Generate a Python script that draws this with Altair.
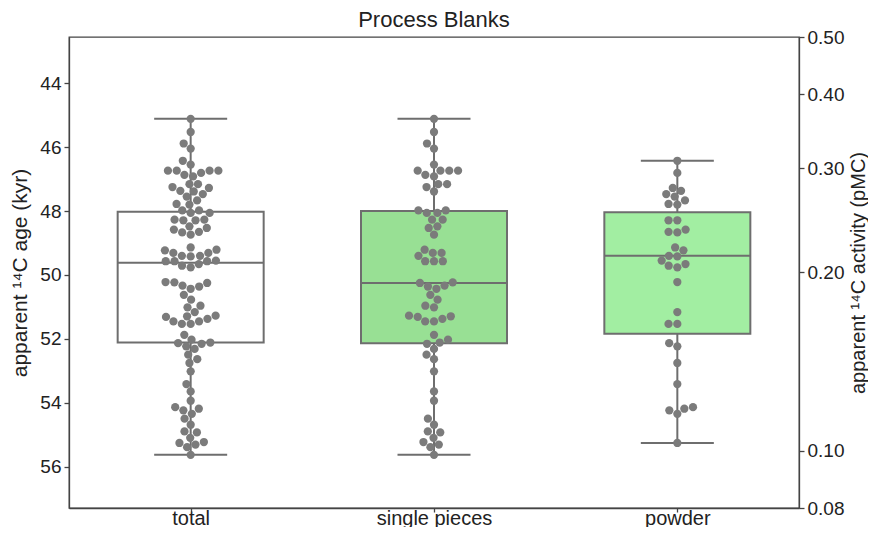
import numpy as np
import pandas as pd
import altair as alt

# ---------------- data ----------------
chart_title = "Process Blanks"
categories = ["total", "single pieces", "powder"]

single_ages = [
    45.12, 45.53, 45.89, 46.05, 46.55, 46.74, 46.74, 46.74, 46.74, 46.87, 46.92,
    47.16, 47.16, 47.25, 47.39,
    47.98, 47.98, 48.06, 48.06, 48.27, 48.27, 48.48, 48.53, 48.74, 49.21, 49.31,
    49.31, 49.40, 49.57, 49.57, 49.57,
    50.23, 50.25, 50.33, 50.36, 50.43, 50.62, 50.77, 50.96, 51.01, 51.27, 51.29,
    51.31, 51.37, 51.45, 51.45,
    51.87, 52.02, 52.11, 52.15, 52.31, 52.49, 52.63, 53.01, 53.64, 53.93, 54.49,
    54.68, 54.89, 54.92, 55.09, 55.22, 55.30, 55.38, 55.62,
]
powder_ages = [
    46.43, 46.81, 47.28, 47.37, 47.47, 47.55, 47.67, 47.78, 47.80,
    48.29, 48.29, 48.58, 48.65, 48.67, 49.14, 49.23, 49.40, 49.42, 49.55,
    49.66, 49.71, 49.76, 50.22,
    51.16, 51.53, 51.53, 52.13, 52.23, 52.75, 53.41, 54.13, 54.18, 54.23,
    54.34, 55.25,
]
total_ages = single_ages + powder_ages
group_ages = [total_ages, single_ages, powder_ages]

box_q1 = [48.02, 48.00, 48.04]
box_median = [49.62, 50.25, 49.40]
box_q3 = [52.11, 52.13, 51.84]
whisker_lo = [45.12, 45.12, 46.43]
whisker_hi = [55.62, 55.62, 55.25]
box_fill = ["#ffffff", "#98e094", "#a2eea2"]

pmc_limits = [0.08, 0.50]
pmc_ticks = [0.08, 0.10, 0.20, 0.30, 0.40, 0.50]
age_ticks = [44, 46, 48, 50, 52, 54, 56]

# ---------------- geometry ----------------
W, H = 730, 471
BAND = W / len(categories)


def age_from_pmc(p):
    return -8.033 * np.log(p / 100.0)


AGE_MIN = float(age_from_pmc(pmc_limits[1]))
AGE_MAX = float(age_from_pmc(pmc_limits[0]))
PX_PER_KYR = H / (AGE_MAX - AGE_MIN)
R = 4.2  # swarm radius in px


def swarm_offsets(ages, r=R):
    ys = (np.asarray(ages) - AGE_MIN) * PX_PER_KYR
    order = np.argsort(-ys, kind="stable")
    placed = []
    out = np.zeros(len(ys))
    for idx in order:
        y = ys[idx]
        nb = [(px, py) for (px, py) in placed if abs(py - y) < 2 * r]
        cands = [0.0]
        left_first = True
        for (px, py) in nb:
            dy = y - py
            dx = np.sqrt(max(4 * r * r - dy * dy, 0.0)) * 1.05
            pair = [px - dx, px + dx] if left_first else [px + dx, px - dx]
            cands.extend(pair)
            left_first = not left_first
        cands = np.array(cands)
        cands = cands[np.argsort(np.abs(cands), kind="stable")]
        chosen = cands[0]
        for c in cands:
            if all((c - px) ** 2 + (y - py) ** 2 >= 4 * r * r - 1e-6 for px, py in nb):
                chosen = c
                break
        placed.append((chosen, y))
        out[idx] = chosen
    return out


rows = []
for i, (cat, ages) in enumerate(zip(categories, group_ages)):
    offs = swarm_offsets(ages)
    for a, o in zip(ages, offs):
        rows.append({"cat": cat, "age": a, "xpos": i + 0.5 + o / BAND})
points_df = pd.DataFrame(rows)

box_df = pd.DataFrame({
    "cat": categories,
    "xl": [i + 0.2 for i in range(3)],
    "xr": [i + 0.8 for i in range(3)],
    "xc": [i + 0.5 for i in range(3)],
    "cl": [i + 0.35 for i in range(3)],
    "cr": [i + 0.65 for i in range(3)],
    "q1": box_q1, "median": box_median, "q3": box_q3,
    "lo": whisker_lo, "hi": whisker_hi, "fill": box_fill,
})

# ---------------- scales / axes ----------------
FONT = "Liberation Sans"
LINE = "#6e6e6e"

x_scale = alt.Scale(domain=[0, 3], nice=False, zero=False)
label_expr = " : ".join(
    [f"datum.value == {i + 0.5} ? '{c}'" for i, c in enumerate(categories[:-1])]
) + f" : '{categories[-1]}'"
x_axis = alt.Axis(values=[0.5, 1.5, 2.5], labelExpr=label_expr, title=None,
                  labelAngle=0, tickSize=4, labelPadding=12,
                  labelBaseline="alphabetic", labelFontSize=20)

y_scale = alt.Scale(domain=[AGE_MIN, AGE_MAX], reverse=True, nice=False, zero=False)
y_axis = alt.Axis(values=age_ticks, title="apparent ¹⁴C age (kyr)", tickSize=5,
                  labelPadding=3, titleX=-49, titleBaseline="middle")


def X(f):
    return alt.X(f"{f}:Q", scale=x_scale, axis=x_axis)


def Y(f):
    return alt.Y(f"{f}:Q", scale=y_scale, axis=y_axis)


base = alt.Chart(box_df)

whisk = base.mark_rule(color=LINE, strokeWidth=2).encode(
    x=X("xc"), y=Y("lo"), y2="hi")
caps_lo = base.mark_rule(color=LINE, strokeWidth=2).encode(
    x=X("cl"), x2="cr", y=Y("lo"))
caps_hi = base.mark_rule(color=LINE, strokeWidth=2).encode(
    x=X("cl"), x2="cr", y=Y("hi"))
boxes = base.mark_rect(stroke=LINE, strokeWidth=2).encode(
    x=X("xl"), x2="xr", y=Y("q1"), y2="q3",
    fill=alt.Fill("fill:N", scale=None))
med = base.mark_rule(color=LINE, strokeWidth=2).encode(
    x=X("xl"), x2="xr", y=Y("median"))
pts = alt.Chart(points_df).mark_circle(size=68, color="#7b7b7b", opacity=1).encode(
    x=X("xpos"), y=Y("age"))

# chart title, drawn as a text centred above the plot frame
title_mark = alt.Chart(pd.DataFrame({"t": [chart_title]})).mark_text(
    font=FONT, fontSize=22, color="#222222", align="center",
    baseline="alphabetic").encode(
    x=alt.value(W / 2), y=alt.value(-10), text="t:N")

left = alt.layer(whisk, caps_lo, caps_hi, boxes, med, pts, title_mark)

right = alt.Chart(pd.DataFrame({"pmc": pmc_limits})).mark_point(opacity=0).encode(
    y=alt.Y("pmc:Q",
            scale=alt.Scale(type="log", domain=pmc_limits, nice=False, zero=False),
            axis=alt.Axis(orient="right", values=pmc_ticks, format=".2f",
                          title="apparent ¹⁴C activity (pMC)", tickSize=5,
                          labelPadding=3, titleAngle=270, titleX=59,
                          titleFontSize=20, titleBaseline="middle")))

chart = alt.layer(left, right).resolve_scale(y="independent").properties(
    width=W, height=H,
    padding={"left": 61, "top": 29, "right": 69, "bottom": 19},
    autosize=alt.AutoSizeParams(type="none"),
).configure_view(
    stroke="#444444", strokeWidth=1.3
).configure_axis(
    grid=False, domainColor="#444444", domainWidth=1.3, tickColor="#444444",
    tickWidth=1.3, labelColor="#222222", labelFont=FONT, labelFontSize=19,
    titleFont=FONT, titleFontSize=21, titleFontWeight="normal",
    titleColor="#222222",
)

chart.save("out.html", embed_options={"renderer": "svg", "actions": False})
